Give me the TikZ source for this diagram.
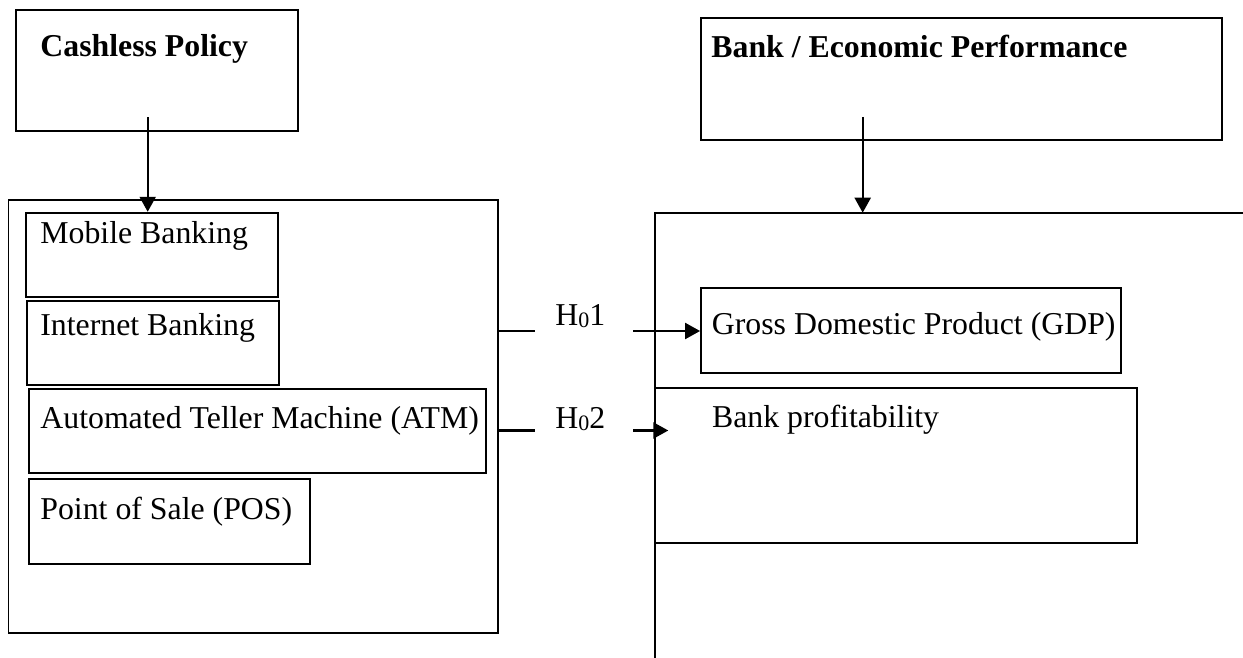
\documentclass[tikz,border=0pt]{standalone}
\usepackage{fontspec}
\setmainfont{Liberation Serif}
\usetikzlibrary{arrows.meta,fit}
\begin{document}
\begin{tikzpicture}[x=0.5pt,y=-0.5pt,
  boxst/.style={draw, line width=0.9pt, inner sep=0pt},
  boxline/.style={line width=0.9pt},
  txt/.style={anchor=base west, inner sep=0pt, font=\fontsize{15.9}{19}\selectfont},
  htxt/.style={anchor=base west, inner sep=0pt, font=\fontsize{15.9}{19}\selectfont\bfseries},
  conn/.style={line width=1.1pt},
  arr/.style={line width=1.1pt, -{Triangle[length=7.5pt,width=8pt]}}]
\useasboundingbox (0,0) rectangle (1243,658);

% top boxes
\node[boxst, fit={(16,10) (298.3,131)}] (cash) {};
\node[htxt] (cashT) at (40,57) {Cashless Policy};
\node[boxst, fit={(700.6,18.3) (1222,140)}] (bep) {};
\node[htxt] (bepT) at (711,58) {Bank / Economic Performance};

% left group
\node[boxst, fit={(8.5,200) (498,633)}] (left) {};
\node[boxst, fit={(26,212.7) (277.7,297.3)}] (mob) {};
\node[txt] (mobT) at (40,243) {Mobile Banking};
\node[boxst, fit={(27.3,300.7) (279.3,385)}] (int) {};
\node[txt] (intT) at (40,335) {Internet Banking};
\node[boxst, fit={(29.3,389.3) (485.6,472.7)}] (atm) {};
\node[txt] (atmT) at (40,428) {Automated Teller Machine (ATM)};
\node[boxst, fit={(29.3,479) (310,564)}] (pos) {};
\node[txt] (posT) at (40,519) {Point of Sale (POS)};

% right group
\coordinate (rtr) at (1243,212.7);
\coordinate (rtl) at (655,212.7);
\coordinate (rbl) at (655,658);
\draw[boxline] (rtr) -- (rtl) -- (rbl);
\node[boxst, fit={(701,287.7) (1120.6,372.7)}] (gdp) {};
\node[txt] (gdpT) at (711.5,334) {Gross Domestic Product (GDP)};
\node[boxst, fit={(655,388.3) (1137,543.3)}] (prof) {};
\node[txt] (profT) at (711.7,427) {Bank profitability};

% vertical arrows
\coordinate (c1) at (147.7,117.3);
\draw[arr] (c1) -- (c1 |- mob.north);
\coordinate (c2) at (862.7,117);
\draw[arr] (c2) -- (c2 |- rtl);

% hypotheses
\coordinate (h1a) at (535,331);
\draw[conn] (h1a -| left.east) -- (h1a);
\node[txt] (h1) at (555,325) {H{\fontsize{11}{12}\selectfont\raisebox{-1.4pt}{0}}1};
\coordinate (h1b) at (633,331);
\draw[arr] (h1b) -- (h1b -| gdp.west);

\coordinate (h2a) at (535,430.5);
\draw[conn] (h2a -| left.east) -- (h2a);
\node[txt] (h2) at (555,428) {H{\fontsize{11}{12}\selectfont\raisebox{-1.4pt}{0}}2};
\coordinate (h2b) at (633,430.5);
\coordinate (h2e) at (668.3,430.5);
\draw[arr] (h2b) -- (h2e);
\end{tikzpicture}
\end{document}
